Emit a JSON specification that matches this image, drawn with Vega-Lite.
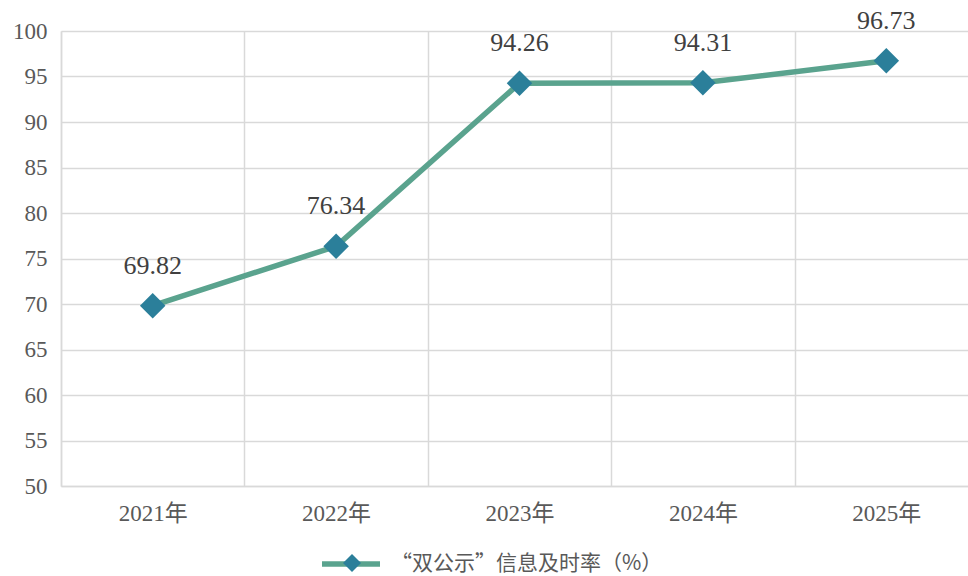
{
  "$schema": "https://vega.github.io/schema/vega-lite/v6.json",
  "autosize": {"type": "none"},
  "padding": {"left": 61, "top": 31, "right": 0, "bottom": 90},
  "width": 917,
  "height": 455,
  "background": "white",
  "config": {
    "view": {"stroke": null},
    "font": "Liberation Serif, Noto Sans CJK SC",
    "axis": {"gridColor": "#d9d9d9", "gridWidth": 1.5, "domainColor": "#d9d9d9", "domainWidth": 1.5, "ticks": false, "labelColor": "#595959", "labelFont": "Liberation Serif, Noto Sans CJK SC", "labelFontSize": 23, "title": null}
  },
  "data": {"values": [
    {"year": "2021年", "value": 69.82},
    {"year": "2022年", "value": 76.34},
    {"year": "2023年", "value": 94.26},
    {"year": "2024年", "value": 94.31},
    {"year": "2025年", "value": 96.73}
  ]},
  "encoding": {
    "x": {"field": "year", "type": "ordinal", "scale": {"type": "band", "paddingInner": 0, "paddingOuter": 0},
      "axis": {"labelAngle": 0, "tickBand": "extent", "grid": true, "labelPadding": 16, "domain": true}},
    "y": {"field": "value", "type": "quantitative", "scale": {"domain": [50, 100], "nice": false, "zero": false},
      "axis": {"values": [50, 55, 60, 65, 70, 75, 80, 85, 90, 95, 100], "labelPadding": 14, "domain": true}}
  },
  "layer": [
    {
      "mark": {"type": "line", "strokeWidth": 5.5},
      "encoding": {
        "color": {"datum": "“双公示”信息及时率（%）", "type": "nominal",
          "scale": {"range": ["#5aa38e"]},
          "legend": {"orient": "none", "legendX": 258, "legendY": 501, "title": null, "symbolType": "stroke", "symbolStrokeWidth": 5.5, "symbolSize": 3364, "symbolStrokeColor": "#5aa38e", "labelFontSize": 21, "labelColor": "#595959", "labelFont": "Noto Sans CJK SC", "labelOffset": 8, "labelLimit": 500, "padding": 0}
        }
      }
    },
    {
      "mark": {"type": "point", "filled": true, "color": "#2b7f9a", "size": 650, "opacity": 1},
      "encoding": {
        "shape": {"datum": "s", "type": "nominal",
          "scale": {"range": ["diamond"]},
          "legend": {"orient": "none", "legendX": 282, "legendY": 523, "title": null, "symbolFillColor": "#2b7f9a", "symbolStrokeColor": "#2b7f9a", "symbolStrokeWidth": 0, "symbolSize": 324, "labelExpr": "''", "labelFontSize": 1, "padding": 0}
        }
      }
    },
    {
      "mark": {"type": "text", "dy": -40, "fontSize": 26, "color": "#404040", "font": "Liberation Serif"},
      "encoding": {"text": {"field": "value", "type": "quantitative", "format": ".2f"}}
    }
  ]
}
